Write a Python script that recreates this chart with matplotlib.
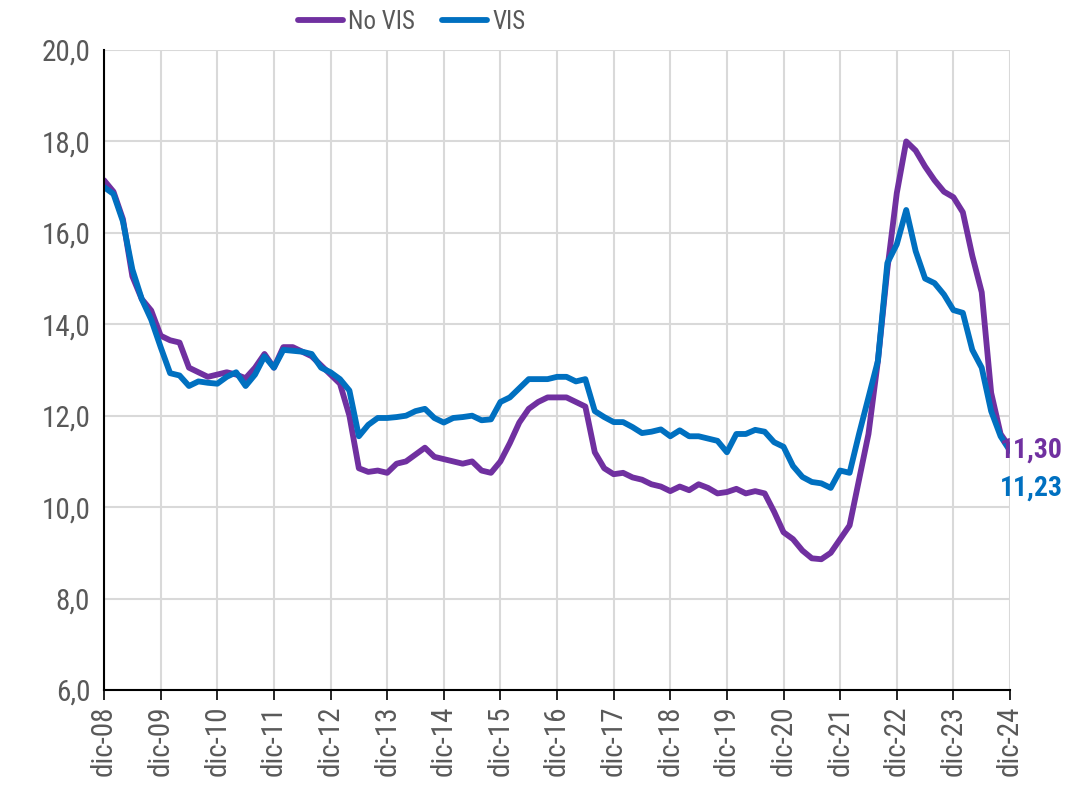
import numpy as np
import matplotlib
matplotlib.use("Agg")
import matplotlib.pyplot as plt

# lecturas cada 2 meses, desde dic-08 hasta dic-24
years = [f"dic-{y:02d}" for y in range(8, 25)]

no_vis = [
    17.15, 16.9, 16.3, 15.05, 14.55, 14.3, 13.75, 13.65, 13.6, 13.05,
    12.95, 12.85, 12.9, 12.95, 12.9, 12.82, 13.05, 13.35, 13.05, 13.5,
    13.5, 13.4, 13.3, 13.1, 12.9, 12.7, 12.0, 10.85, 10.77, 10.8,
    10.75, 10.95, 11.0, 11.15, 11.3, 11.1, 11.05, 11.0, 10.95, 11.0,
    10.8, 10.75, 11.0, 11.4, 11.85, 12.15, 12.3, 12.4, 12.4, 12.4,
    12.3, 12.2, 11.2, 10.85, 10.72, 10.75, 10.65, 10.6, 10.5, 10.45,
    10.35, 10.45, 10.37, 10.5, 10.42, 10.3, 10.33, 10.4, 10.3, 10.35,
    10.3, 9.9, 9.45, 9.3, 9.05, 8.88, 8.86, 9.0, 9.3, 9.6,
    10.6, 11.6, 13.2, 15.2, 16.87, 18.0, 17.8, 17.45, 17.15, 16.9,
    16.78, 16.45, 15.5, 14.7, 12.5, 11.6, 11.30,
]

vis = [
    17.0, 16.85, 16.25, 15.2, 14.55, 14.1, 13.5, 12.93, 12.88, 12.65,
    12.75, 12.72, 12.7, 12.85, 12.95, 12.65, 12.9, 13.3, 13.05, 13.44,
    13.42, 13.4, 13.35, 13.05, 12.95, 12.8, 12.55, 11.55, 11.8, 11.95,
    11.95, 11.97, 12.0, 12.1, 12.15, 11.95, 11.85, 11.95, 11.97, 12.0,
    11.9, 11.92, 12.3, 12.4, 12.6, 12.8, 12.8, 12.8, 12.85, 12.85,
    12.75, 12.8, 12.1, 11.97, 11.86, 11.86, 11.75, 11.62, 11.65, 11.7,
    11.55, 11.68, 11.55, 11.55, 11.5, 11.45, 11.2, 11.6, 11.6, 11.69,
    11.65, 11.42, 11.32, 10.9, 10.66, 10.55, 10.52, 10.42, 10.8, 10.75,
    11.6, 12.4, 13.2, 15.34, 15.75, 16.5, 15.6, 15.0, 14.9, 14.65,
    14.31, 14.25, 13.44, 13.05, 12.1, 11.55, 11.23,
]

months = np.arange(len(no_vis)) * 2

purple = "#7030A0"
blue = "#0070C0"
gray_txt = "#595959"

plt.rcParams["font.family"] = ["Roboto Condensed", "Roboto", "DejaVu Sans"]

fig = plt.figure(figsize=(10.66, 7.96), dpi=100)
ax = fig.add_axes([0.0976, 0.1332, 0.8499, 0.804])

ax.plot(months, no_vis, color=purple, lw=4.2, label="No VIS",
        solid_capstyle="round", solid_joinstyle="round")
ax.plot(months, vis, color=blue, lw=4.2, label="VIS",
        solid_capstyle="round", solid_joinstyle="round")

ax.set_xlim(0, 192)
ax.set_ylim(6, 20)
ax.set_xticks(np.arange(0, 193, 12))
ax.set_xticklabels(years, rotation=90, fontsize=21, color=gray_txt)
ax.set_yticks(np.arange(6, 21, 2))
ax.set_yticklabels([f"{v:.1f}".replace(".", ",") for v in np.arange(6, 21, 2)],
                   fontsize=21, color=gray_txt)

ax.grid(True, color="#d9d9d9", lw=1.5)
ax.set_axisbelow(True)
for s in ["top", "right"]:
    ax.spines[s].set_visible(False)
ax.spines["left"].set_linewidth(1.5)
ax.spines["bottom"].set_linewidth(1.5)
ax.tick_params(axis="x", direction="out", length=7, width=1.2, pad=4)
ax.tick_params(axis="y", length=0, pad=10)

ax.annotate(f"{no_vis[-1]:.2f}".replace(".", ","), (months[-1], no_vis[-1]),
            xytext=(38, -1.5), textcoords="offset points", ha="right", va="center",
            fontsize=20, fontweight="bold", color=purple)
ax.annotate(f"{vis[-1]:.2f}".replace(".", ","), (months[-1], vis[-1]),
            xytext=(38, -27), textcoords="offset points", ha="right", va="center",
            fontsize=20, fontweight="bold", color=blue)

fig.legend(loc="upper center", bbox_to_anchor=(0.386, 1.016), ncol=2, frameon=False,
           fontsize=18, handlelength=1.8, columnspacing=1.1, handletextpad=0.2,
           labelcolor=gray_txt)

fig.savefig("out.png", dpi=100)
